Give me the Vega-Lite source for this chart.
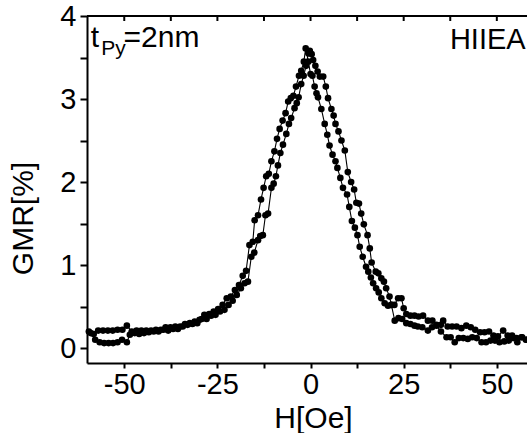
{
  "$schema": "https://vega.github.io/schema/vega-lite/v6.json",
  "width": 440,
  "height": 347,
  "autosize": {"type": "none"},
  "padding": {"left": 87, "top": 16, "right": 0, "bottom": 70},
  "background": "white",
  "config": {
    "view": {"stroke": null},
    "font": "Liberation Sans",
    "axis": {"domainColor": "black", "tickColor": "black", "labelColor": "black", "titleColor": "black", "domainWidth": 2, "tickWidth": 2, "grid": false, "labelFont": "Liberation Sans", "titleFont": "Liberation Sans", "titleFontWeight": "normal"}
  },
  "datasets": {
    "curve": [
      {"H": -59.5, "GMR": 0.2, "branch": "A"}, {"H": -58.2, "GMR": 0.17, "branch": "A"}, {"H": -57, "GMR": 0.21, "branch": "A"}, {"H": -55.7, "GMR": 0.21, "branch": "A"}, {"H": -54.4, "GMR": 0.21, "branch": "A"}, {"H": -53.1, "GMR": 0.21, "branch": "A"}, {"H": -51.8, "GMR": 0.22, "branch": "A"}, {"H": -50.5, "GMR": 0.22, "branch": "A"}, {"H": -49.3, "GMR": 0.27, "branch": "A"}, {"H": -48, "GMR": 0.2, "branch": "A"}, {"H": -46.7, "GMR": 0.21, "branch": "A"}, {"H": -45.4, "GMR": 0.21, "branch": "A"}, {"H": -44.1, "GMR": 0.21, "branch": "A"}, {"H": -42.8, "GMR": 0.21, "branch": "A"}, {"H": -41.5, "GMR": 0.22, "branch": "A"}, {"H": -40.2, "GMR": 0.22, "branch": "A"}, {"H": -38.9, "GMR": 0.25, "branch": "A"}, {"H": -37.6, "GMR": 0.25, "branch": "A"}, {"H": -36.3, "GMR": 0.26, "branch": "A"}, {"H": -35, "GMR": 0.26, "branch": "A"}, {"H": -33.7, "GMR": 0.29, "branch": "A"}, {"H": -32.4, "GMR": 0.3, "branch": "A"}, {"H": -31.1, "GMR": 0.32, "branch": "A"}, {"H": -29.8, "GMR": 0.34, "branch": "A"}, {"H": -28.5, "GMR": 0.4, "branch": "A"}, {"H": -27.2, "GMR": 0.41, "branch": "A"}, {"H": -26, "GMR": 0.44, "branch": "A"}, {"H": -24.8, "GMR": 0.47, "branch": "A"}, {"H": -23.6, "GMR": 0.52, "branch": "A"}, {"H": -22.5, "GMR": 0.6, "branch": "A"}, {"H": -21.4, "GMR": 0.62, "branch": "A"}, {"H": -20.3, "GMR": 0.7, "branch": "A"}, {"H": -19.2, "GMR": 0.76, "branch": "A"}, {"H": -18.2, "GMR": 0.87, "branch": "A"}, {"H": -17.3, "GMR": 0.93, "branch": "A"}, {"H": -16.4, "GMR": 1.24, "branch": "A"}, {"H": -15.5, "GMR": 1.28, "branch": "A"}, {"H": -15, "GMR": 1.54, "branch": "A"}, {"H": -14.1, "GMR": 1.6, "branch": "A"}, {"H": -13.3, "GMR": 1.79, "branch": "A"}, {"H": -12.6, "GMR": 1.93, "branch": "A"}, {"H": -11.9, "GMR": 2.07, "branch": "A"}, {"H": -11.2, "GMR": 2.1, "branch": "A"}, {"H": -10.5, "GMR": 2.25, "branch": "A"}, {"H": -9.7, "GMR": 2.37, "branch": "A"}, {"H": -9, "GMR": 2.52, "branch": "A"}, {"H": -8.3, "GMR": 2.64, "branch": "A"}, {"H": -7.5, "GMR": 2.74, "branch": "A"}, {"H": -6.7, "GMR": 2.83, "branch": "A"}, {"H": -6, "GMR": 2.97, "branch": "A"}, {"H": -5.3, "GMR": 3.01, "branch": "A"}, {"H": -4.6, "GMR": 3.04, "branch": "A"}, {"H": -3.9, "GMR": 3.15, "branch": "A"}, {"H": -3.1, "GMR": 3.28, "branch": "A"}, {"H": -2.5, "GMR": 3.34, "branch": "A"}, {"H": -1.8, "GMR": 3.45, "branch": "A"}, {"H": -1.3, "GMR": 3.61, "branch": "A"}, {"H": -0.6, "GMR": 3.45, "branch": "A"}, {"H": 0, "GMR": 3.3, "branch": "A"}, {"H": 0.5, "GMR": 3.28, "branch": "A"}, {"H": 1.1, "GMR": 3.15, "branch": "A"}, {"H": 1.6, "GMR": 3.07, "branch": "A"}, {"H": 2, "GMR": 3.02, "branch": "A"}, {"H": 2.9, "GMR": 2.88, "branch": "A"}, {"H": 3.8, "GMR": 2.7, "branch": "A"}, {"H": 4.5, "GMR": 2.57, "branch": "A"}, {"H": 5.1, "GMR": 2.44, "branch": "A"}, {"H": 5.9, "GMR": 2.33, "branch": "A"}, {"H": 6.7, "GMR": 2.25, "branch": "A"}, {"H": 7.2, "GMR": 2.17, "branch": "A"}, {"H": 8, "GMR": 2.05, "branch": "A"}, {"H": 8.7, "GMR": 1.93, "branch": "A"}, {"H": 9.8, "GMR": 1.85, "branch": "A"}, {"H": 10.4, "GMR": 1.7, "branch": "A"}, {"H": 11.1, "GMR": 1.53, "branch": "A"}, {"H": 11.9, "GMR": 1.45, "branch": "A"}, {"H": 12.6, "GMR": 1.36, "branch": "A"}, {"H": 13.2, "GMR": 1.22, "branch": "A"}, {"H": 14, "GMR": 1.1, "branch": "A"}, {"H": 14.9, "GMR": 0.98, "branch": "A"}, {"H": 15.5, "GMR": 0.92, "branch": "A"}, {"H": 16.2, "GMR": 0.85, "branch": "A"}, {"H": 16.8, "GMR": 0.78, "branch": "A"}, {"H": 17.6, "GMR": 0.72, "branch": "A"}, {"H": 18.3, "GMR": 0.67, "branch": "A"}, {"H": 19, "GMR": 0.6, "branch": "A"}, {"H": 19.9, "GMR": 0.54, "branch": "A"}, {"H": 20.8, "GMR": 0.51, "branch": "A"}, {"H": 21.7, "GMR": 0.52, "branch": "A"}, {"H": 22.6, "GMR": 0.33, "branch": "A"}, {"H": 23.6, "GMR": 0.36, "branch": "A"}, {"H": 24.6, "GMR": 0.35, "branch": "A"}, {"H": 25.7, "GMR": 0.3, "branch": "A"}, {"H": 26.8, "GMR": 0.29, "branch": "A"}, {"H": 27.9, "GMR": 0.27, "branch": "A"}, {"H": 28.8, "GMR": 0.26, "branch": "A"}, {"H": 30, "GMR": 0.25, "branch": "A"}, {"H": 31.5, "GMR": 0.21, "branch": "A"}, {"H": 32.6, "GMR": 0.25, "branch": "A"}, {"H": 33.8, "GMR": 0.27, "branch": "A"}, {"H": 35, "GMR": 0.2, "branch": "A"}, {"H": 36.5, "GMR": 0.13, "branch": "A"}, {"H": 37.6, "GMR": 0.13, "branch": "A"}, {"H": 38.7, "GMR": 0.07, "branch": "A"}, {"H": 39.8, "GMR": 0.12, "branch": "A"}, {"H": 41, "GMR": 0.12, "branch": "A"}, {"H": 42.2, "GMR": 0.11, "branch": "A"}, {"H": 43.4, "GMR": 0.13, "branch": "A"}, {"H": 44.6, "GMR": 0.12, "branch": "A"}, {"H": 45.9, "GMR": 0.07, "branch": "A"}, {"H": 47.1, "GMR": 0.07, "branch": "A"}, {"H": 48.3, "GMR": 0.09, "branch": "A"}, {"H": 49.5, "GMR": 0.09, "branch": "A"}, {"H": 50.7, "GMR": 0.07, "branch": "A"}, {"H": 52, "GMR": 0.08, "branch": "A"}, {"H": 53.2, "GMR": 0.09, "branch": "A"}, {"H": 54.4, "GMR": 0.12, "branch": "A"}, {"H": 55.5, "GMR": 0.07, "branch": "A"}, {"H": 56.8, "GMR": 0.13, "branch": "A"}, {"H": 58, "GMR": 0.1, "branch": "A"},
      {"H": -59, "GMR": 0.18, "branch": "B"}, {"H": -57.8, "GMR": 0.1, "branch": "B"}, {"H": -56.6, "GMR": 0.07, "branch": "B"}, {"H": -55.4, "GMR": 0.06, "branch": "B"}, {"H": -54.2, "GMR": 0.06, "branch": "B"}, {"H": -53, "GMR": 0.06, "branch": "B"}, {"H": -51.8, "GMR": 0.07, "branch": "B"}, {"H": -50.6, "GMR": 0.1, "branch": "B"}, {"H": -49.3, "GMR": 0.07, "branch": "B"}, {"H": -48.5, "GMR": 0.16, "branch": "B"}, {"H": -47.2, "GMR": 0.18, "branch": "B"}, {"H": -46, "GMR": 0.17, "branch": "B"}, {"H": -44.7, "GMR": 0.18, "branch": "B"}, {"H": -43.4, "GMR": 0.19, "branch": "B"}, {"H": -42.1, "GMR": 0.2, "branch": "B"}, {"H": -40.8, "GMR": 0.2, "branch": "B"}, {"H": -39.5, "GMR": 0.22, "branch": "B"}, {"H": -38.2, "GMR": 0.21, "branch": "B"}, {"H": -36.9, "GMR": 0.23, "branch": "B"}, {"H": -35.6, "GMR": 0.23, "branch": "B"}, {"H": -34.3, "GMR": 0.26, "branch": "B"}, {"H": -33, "GMR": 0.28, "branch": "B"}, {"H": -31.7, "GMR": 0.29, "branch": "B"}, {"H": -30.4, "GMR": 0.3, "branch": "B"}, {"H": -29.2, "GMR": 0.35, "branch": "B"}, {"H": -27.9, "GMR": 0.35, "branch": "B"}, {"H": -26.7, "GMR": 0.39, "branch": "B"}, {"H": -25.5, "GMR": 0.4, "branch": "B"}, {"H": -24.3, "GMR": 0.44, "branch": "B"}, {"H": -23.1, "GMR": 0.46, "branch": "B"}, {"H": -22, "GMR": 0.52, "branch": "B"}, {"H": -20.9, "GMR": 0.57, "branch": "B"}, {"H": -19.8, "GMR": 0.64, "branch": "B"}, {"H": -18.7, "GMR": 0.72, "branch": "B"}, {"H": -17.7, "GMR": 0.78, "branch": "B"}, {"H": -16.8, "GMR": 0.8, "branch": "B"}, {"H": -15.9, "GMR": 1.1, "branch": "B"}, {"H": -15.1, "GMR": 1.15, "branch": "B"}, {"H": -14.1, "GMR": 1.3, "branch": "B"}, {"H": -13.5, "GMR": 1.35, "branch": "B"}, {"H": -12.8, "GMR": 1.36, "branch": "B"}, {"H": -12.1, "GMR": 1.6, "branch": "B"}, {"H": -11.4, "GMR": 1.62, "branch": "B"}, {"H": -10.5, "GMR": 1.93, "branch": "B"}, {"H": -9.9, "GMR": 1.98, "branch": "B"}, {"H": -9.3, "GMR": 2.07, "branch": "B"}, {"H": -8.75, "GMR": 2.2, "branch": "B"}, {"H": -8.1, "GMR": 2.35, "branch": "B"}, {"H": -7.4, "GMR": 2.45, "branch": "B"}, {"H": -6.5, "GMR": 2.58, "branch": "B"}, {"H": -5.8, "GMR": 2.7, "branch": "B"}, {"H": -5.2, "GMR": 2.77, "branch": "B"}, {"H": -4.3, "GMR": 2.89, "branch": "B"}, {"H": -3.7, "GMR": 2.95, "branch": "B"}, {"H": -3.2, "GMR": 3.02, "branch": "B"}, {"H": -2.5, "GMR": 3.18, "branch": "B"}, {"H": -1.85, "GMR": 3.28, "branch": "B"}, {"H": -1.2, "GMR": 3.4, "branch": "B"}, {"H": -0.6, "GMR": 3.55, "branch": "B"}, {"H": -0.2, "GMR": 3.58, "branch": "B"}, {"H": 0.3, "GMR": 3.54, "branch": "B"}, {"H": 0.7, "GMR": 3.47, "branch": "B"}, {"H": 1.3, "GMR": 3.4, "branch": "B"}, {"H": 1.9, "GMR": 3.33, "branch": "B"}, {"H": 2.5, "GMR": 3.27, "branch": "B"}, {"H": 3.4, "GMR": 3.27, "branch": "B"}, {"H": 4.1, "GMR": 3.15, "branch": "B"}, {"H": 4.7, "GMR": 3.01, "branch": "B"}, {"H": 5.6, "GMR": 2.88, "branch": "B"}, {"H": 6.2, "GMR": 2.8, "branch": "B"}, {"H": 6.7, "GMR": 2.7, "branch": "B"}, {"H": 7.5, "GMR": 2.61, "branch": "B"}, {"H": 8.3, "GMR": 2.5, "branch": "B"}, {"H": 9.2, "GMR": 2.38, "branch": "B"}, {"H": 10, "GMR": 2.12, "branch": "B"}, {"H": 10.9, "GMR": 2, "branch": "B"}, {"H": 11.7, "GMR": 1.91, "branch": "B"}, {"H": 12.3, "GMR": 1.75, "branch": "B"}, {"H": 13, "GMR": 1.74, "branch": "B"}, {"H": 13.6, "GMR": 1.62, "branch": "B"}, {"H": 14.3, "GMR": 1.49, "branch": "B"}, {"H": 15.3, "GMR": 1.36, "branch": "B"}, {"H": 15.9, "GMR": 1.2, "branch": "B"}, {"H": 16.4, "GMR": 1.03, "branch": "B"}, {"H": 17.5, "GMR": 0.92, "branch": "B"}, {"H": 18.2, "GMR": 0.9, "branch": "B"}, {"H": 19, "GMR": 0.84, "branch": "B"}, {"H": 19.7, "GMR": 0.8, "branch": "B"}, {"H": 20.3, "GMR": 0.72, "branch": "B"}, {"H": 21.2, "GMR": 0.62, "branch": "B"}, {"H": 21.7, "GMR": 0.52, "branch": "B"}, {"H": 22.5, "GMR": 0.52, "branch": "B"}, {"H": 23.5, "GMR": 0.6, "branch": "B"}, {"H": 24.4, "GMR": 0.6, "branch": "B"}, {"H": 25, "GMR": 0.48, "branch": "B"}, {"H": 25.7, "GMR": 0.41, "branch": "B"}, {"H": 26.8, "GMR": 0.39, "branch": "B"}, {"H": 27.9, "GMR": 0.39, "branch": "B"}, {"H": 29, "GMR": 0.38, "branch": "B"}, {"H": 30.2, "GMR": 0.39, "branch": "B"}, {"H": 31.5, "GMR": 0.33, "branch": "B"}, {"H": 32.7, "GMR": 0.33, "branch": "B"}, {"H": 33.8, "GMR": 0.28, "branch": "B"}, {"H": 35, "GMR": 0.28, "branch": "B"}, {"H": 35.6, "GMR": 0.33, "branch": "B"}, {"H": 36.8, "GMR": 0.26, "branch": "B"}, {"H": 38, "GMR": 0.26, "branch": "B"}, {"H": 39.2, "GMR": 0.26, "branch": "B"}, {"H": 40.5, "GMR": 0.24, "branch": "B"}, {"H": 41.8, "GMR": 0.27, "branch": "B"}, {"H": 43, "GMR": 0.25, "branch": "B"}, {"H": 44.2, "GMR": 0.22, "branch": "B"}, {"H": 45.5, "GMR": 0.19, "branch": "B"}, {"H": 46.7, "GMR": 0.19, "branch": "B"}, {"H": 47.9, "GMR": 0.2, "branch": "B"}, {"H": 49.1, "GMR": 0.15, "branch": "B"}, {"H": 50.3, "GMR": 0.14, "branch": "B"}, {"H": 51.7, "GMR": 0.21, "branch": "B"}, {"H": 52.9, "GMR": 0.15, "branch": "B"}, {"H": 54.1, "GMR": 0.15, "branch": "B"}, {"H": 55.3, "GMR": 0.12, "branch": "B"}, {"H": 56.6, "GMR": 0.13, "branch": "B"}, {"H": 57.8, "GMR": 0.1, "branch": "B"}
    ],
    "labels": [
      {"H": -59, "GMR": 3.63, "text": "t", "size": 30},
      {"H": -56.2, "GMR": 3.53, "text": "Py", "size": 21},
      {"H": -50.2, "GMR": 3.63, "text": "=2nm", "size": 30},
      {"H": 37.4, "GMR": 3.6, "text": "HIIEA", "size": 29}
    ],
    "frame": [{"GMR": 4}],
    "topticks": [{"H": -50}, {"H": -37.5}, {"H": -25}, {"H": -12.5}, {"H": 0}, {"H": 12.5}, {"H": 25}, {"H": 37.5}, {"H": 50}]
  },
  "layer": [
    {
      "data": {"name": "curve"},
      "mark": {"type": "line", "color": "black", "strokeWidth": 1.1},
      "encoding": {
        "x": {"field": "H", "type": "quantitative", "scale": {"domain": [-60, 58.1], "nice": false, "zero": false},
          "axis": {"orient": "bottom", "title": "H[Oe]", "titleFontSize": 30, "titleX": 226, "titleY": 55, "titleBaseline": "middle",
            "values": [-50, -37.5, -25, -12.5, 0, 12.5, 25, 37.5, 50], "labelExpr": "datum.value % 25 == 0 ? '' + datum.value : ''",
            "labelFontSize": 29, "tickSize": 5, "labelPadding": 2, "labelFlush": false, "labelOverlap": false}},
        "y": {"field": "GMR", "type": "quantitative", "scale": {"domain": [-0.18, 4], "nice": false, "zero": false},
          "axis": {"title": "GMR[%]", "titleFontSize": 30, "titleX": -64, "titleY": 202, "titleBaseline": "middle", "titleAngle": -90,
            "values": [0, 0.5, 1, 1.5, 2, 2.5, 3, 3.5, 4], "labelExpr": "datum.value % 1 == 0 ? '' + datum.value : ''",
            "labelFontSize": 29, "tickSize": 7, "labelPadding": 4, "labelFlush": false, "labelOverlap": false}},
        "detail": {"field": "branch"}
      }
    },
    {
      "data": {"name": "curve"},
      "mark": {"type": "point", "filled": true, "color": "black", "opacity": 1, "size": 44},
      "encoding": {
        "x": {"field": "H", "type": "quantitative"},
        "y": {"field": "GMR", "type": "quantitative"}
      }
    },
    {
      "data": {"name": "frame"},
      "mark": {"type": "rule", "color": "black", "strokeWidth": 2},
      "encoding": {
        "y": {"field": "GMR", "type": "quantitative"}
      }
    },
    {
      "data": {"name": "topticks"},
      "mark": {"type": "rule", "color": "black", "strokeWidth": 2},
      "encoding": {
        "x": {"field": "H", "type": "quantitative"},
        "y": {"datum": 4},
        "y2": {"datum": 3.94}
      }
    },
    {
      "data": {"name": "labels"},
      "mark": {"type": "text", "color": "black", "baseline": "alphabetic", "align": "left", "font": "Liberation Sans"},
      "encoding": {
        "x": {"field": "H", "type": "quantitative"},
        "y": {"field": "GMR", "type": "quantitative"},
        "text": {"field": "text"},
        "size": {"field": "size", "type": "quantitative", "scale": null}
      }
    }
  ]
}
